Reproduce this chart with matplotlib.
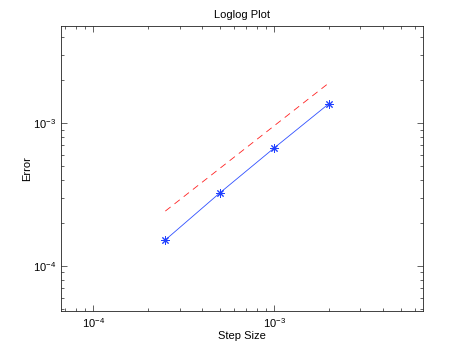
import matplotlib
matplotlib.use("Agg")
import matplotlib.pyplot as plt
from matplotlib.ticker import LogLocator, NullFormatter

plt.rcParams['font.family'] = ['Liberation Sans', 'DejaVu Sans']
plt.rcParams['mathtext.fontset'] = 'custom'
plt.rcParams['mathtext.rm'] = 'Liberation Sans'
plt.rcParams['mathtext.it'] = 'Liberation Sans:italic'
plt.rcParams['mathtext.default'] = 'regular'

step_size = [2.5e-4, 5e-4, 1e-3, 2e-3]
error = [1.52e-4, 3.24e-4, 6.69e-4, 1.36e-3]
ref_x = [2.5e-4, 2e-3]
ref_y = [2.42e-4, 1.9e-3]

fig = plt.figure(figsize=(4.67, 3.51), dpi=100)
ax = fig.add_axes([60.5/467, 1 - 311/351, (423 - 60.5)/467, (311 - 26)/351])

ax.loglog(ref_x, ref_y, color='#ff2020', linestyle='--', linewidth=0.6, dashes=(8, 6))
ax.loglog(step_size, error, color='#3050ff', linestyle='-', linewidth=0.6,
          marker=(8, 2, 0), markersize=6, markeredgewidth=0.7,
          markeredgecolor='#2040ff')

ax.set_xlim(6.58e-5, 6.65e-3)
ax.set_ylim(4.84e-5, 4.77e-3)

ax.xaxis.set_major_locator(LogLocator(base=10, numticks=10))
ax.yaxis.set_major_locator(LogLocator(base=10, numticks=10))
ax.xaxis.set_minor_locator(LogLocator(base=10, subs=range(2, 10), numticks=20))
ax.yaxis.set_minor_locator(LogLocator(base=10, subs=range(2, 10), numticks=20))
ax.xaxis.set_minor_formatter(NullFormatter())
ax.yaxis.set_minor_formatter(NullFormatter())

ax.tick_params(which='both', direction='in', top=True, right=True,
               labelsize=8, width=0.5, colors='#222222', labelcolor='black')
ax.tick_params(which='major', length=4)
ax.tick_params(which='minor', length=2)
for s in ax.spines.values():
    s.set_linewidth(0.6)
    s.set_color('#222222')

ax.set_title('Loglog Plot', fontsize=8, pad=6)
ax.set_xlabel('Step Size', fontsize=8, labelpad=1)
ax.set_ylabel('Error', fontsize=8, labelpad=0)

fig.savefig('out.png', dpi=100)
